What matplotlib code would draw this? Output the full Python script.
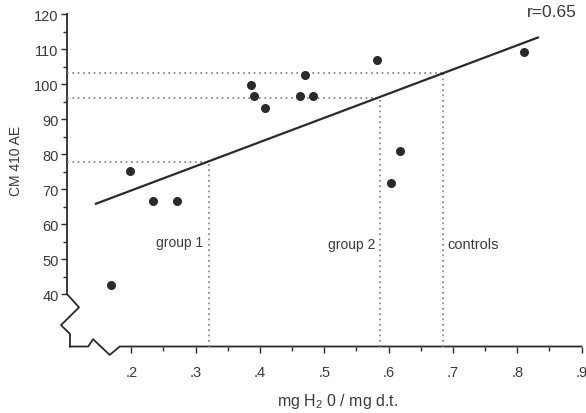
import matplotlib.pyplot as plt
import numpy as np

plt.rcParams['font.family'] = ['Liberation Sans', 'DejaVu Sans']
plt.rcParams['mathtext.fontset'] = 'custom'
plt.rcParams['mathtext.rm'] = 'Liberation Sans'

# water content (mg H2O / mg d.t.) vs CM 410 AE
water = [0.169, 0.198, 0.233, 0.271, 0.386, 0.391, 0.408, 0.462, 0.470,
         0.483, 0.582, 0.603, 0.618, 0.811]
cm410 = [42.5, 75.1, 66.5, 66.5, 99.6, 96.5, 93.1, 96.5, 102.6,
         96.5, 106.9, 71.7, 80.8, 109.1]

# regression line end points (as drawn)
fit_x = [0.145, 0.832]
fit_y = [65.8, 113.3]

# group cut-offs: water content and value on the fit line
groups = ["group 1", "group 2", "controls"]
group_x = [0.32, 0.587, 0.685]
group_y = [77.8, 96.0, 103.1]

# broken-axis zigzags (data coords)
ybreak_x = [0.1, 0.1187, 0.0907, 0.1047, 0.1047]
ybreak_y = [40, 36.2, 31.1, 28.6, 25]
xbreak_x = [0.1047, 0.133, 0.1405, 0.1664, 0.182, 0.9]
xbreak_y = [25, 25, 27.1, 22.6, 25, 25]

ink = '#2a2a2a'
txt = '#3a3a3a'
dots = '#7a7a7a'

fig = plt.figure(figsize=(5.86, 4.14), dpi=100)
ax = fig.add_axes([0.1143, 0.1606, 0.8783, 0.803])
ax.set_xlim(0.1, 0.9)
ax.set_ylim(25, 120)
for s in ax.spines.values():
    s.set_visible(False)

# y axis line with break
ax.plot([0.1, 0.1], [40, 120], color=ink, lw=1.3, clip_on=False)
ax.plot(ybreak_x, ybreak_y, color=ink, lw=1.3, clip_on=False)
ax.plot(xbreak_x, xbreak_y, color=ink, lw=1.3, clip_on=False)

# dotted guide lines
for gx, gy in zip(group_x, group_y):
    ax.plot([0.1, gx], [gy, gy], color=dots, lw=1.2, ls=(0, (1, 2.2)))
    ax.plot([gx, gx], [25, gy], color=dots, lw=1.2, ls=(0, (1, 2.2)))

ax.plot(fit_x, fit_y, color=ink, lw=1.6)
ax.plot(water, cm410, 'o', color=ink, ms=6.5, mec='none')

ax.text(group_x[0] - 0.008, 55.0, groups[0], ha='right', va='center', fontsize=10, color=txt)
ax.text(group_x[1] - 0.008, 54.3, groups[1], ha='right', va='center', fontsize=10, color=txt)
ax.text(group_x[2] + 0.007, 54.3, groups[2], ha='left', va='center', fontsize=10.5, color=txt)
ax.text(0.892, 120.6, "r=0.65", ha='right', va='center', fontsize=12.5, color=txt)

ax.set_yticks(np.arange(40, 121, 10))
ax.set_yticks(np.arange(45, 120, 10), minor=True)
ax.set_xticks(np.arange(0.2, 0.91, 0.1))
ax.set_xticks(np.arange(0.25, 0.9, 0.1), minor=True)
ax.set_xticklabels(['.2', '.3', '.4', '.5', '.6', '.7', '.8', '.9'])
ax.tick_params(axis='both', which='major', length=4, width=1, color=ink,
               labelsize=10.5, labelcolor=txt, pad=2)
ax.tick_params(axis='both', which='minor', length=3, width=1, color=ink)
ax.tick_params(axis='x', pad=9)

ax.set_ylabel("CM 410 AE", fontsize=10, color=txt)
ax.yaxis.set_label_coords(-0.085, 0.56)
ax.set_xlabel("mg H$_2$ 0 / mg d.t.", fontsize=11.5, color=txt)
ax.xaxis.set_label_coords(0.525, -0.135)

fig.savefig('out.png', dpi=100)
